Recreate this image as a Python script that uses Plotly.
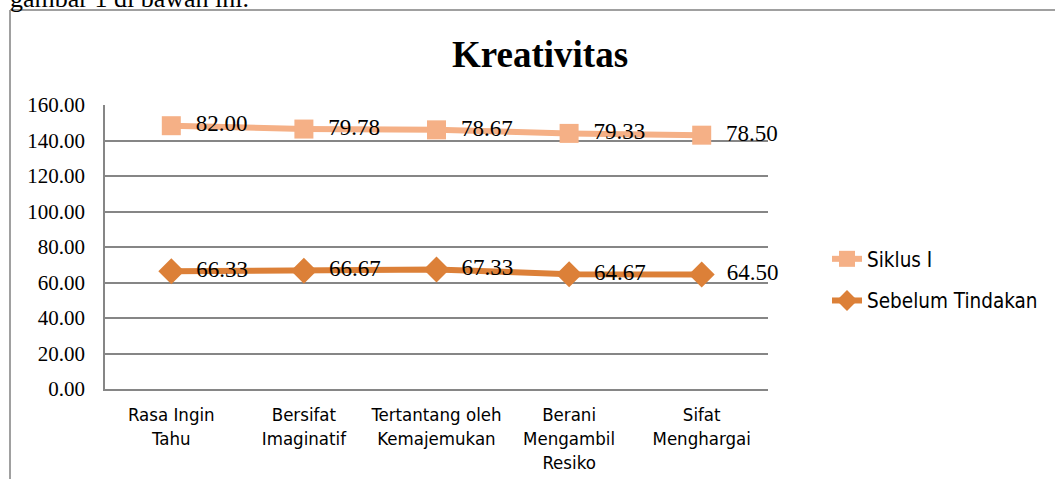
import plotly.graph_objects as go

categories = ["Rasa Ingin<br>Tahu", "Bersifat<br>Imaginatif", "Tertantang oleh<br>Kemajemukan",
              "Berani<br>Mengambil<br>Resiko", "Sifat<br>Menghargai"]
sebelum = [66.33, 66.67, 67.33, 64.67, 64.50]
siklus1 = [82.00, 79.78, 78.67, 79.33, 78.50]
y_ticks = [0, 20, 40, 60, 80, 100, 120, 140, 160]

W, H = 1055, 479
L, R, T, B = 105, 287, 105, 90
pw, ph = W - L - R, H - T - B

def px_x(x):
    return (x - L) / pw

def px_y(y):
    return (H - B - y) / ph

PAD = "\u2002"

fig = go.Figure()
fig.add_trace(go.Scatter(
    x=categories, y=sebelum, name="Sebelum Tindakan", stackgroup="s", fill="none",
    legendgroup="b", legendrank=2, cliponaxis=False,
    mode="lines+markers+text", text=[PAD + f"{v:.2f}" for v in sebelum], textposition="middle right",
    textfont=dict(family="Liberation Serif", size=23, color="black"),
    line=dict(color="#DC8038", width=6),
    marker=dict(symbol="diamond", size=20, color="#DC8038"),
    hoverinfo="skip",
))
fig.add_trace(go.Scatter(
    x=categories, y=siklus1, name="Siklus I", stackgroup="s", fill="none",
    legendgroup="a", legendrank=1, cliponaxis=False,
    mode="lines+markers+text", text=[PAD + f"{v:.2f}" for v in siklus1], textposition="middle right",
    textfont=dict(family="Liberation Serif", size=23, color="black"),
    line=dict(color="#F5B086", width=6),
    marker=dict(symbol="square", size=19, color="#F5B086"),
    hoverinfo="skip",
))

fig.update_layout(
    width=W, height=H,
    margin=dict(l=L, r=R, t=T, b=B, autoexpand=False),
    paper_bgcolor="white", plot_bgcolor="white",
    showlegend=True,
    legend=dict(x=px_x(827), y=px_y(280), xanchor="left", yanchor="middle",
                traceorder="grouped", font=dict(family="DejaVu Sans Condensed", size=20.5, color="black"),
                itemwidth=30, tracegroupgap=12, bgcolor="rgba(0,0,0,0)"),
    title=dict(text="<b>Kreativitas</b>", x=px_x(540), xref="paper", xanchor="center",
               y=1 - 54 / H, yanchor="middle",
               font=dict(family="Liberation Serif", size=37, color="black")),
    xaxis=dict(type="category", range=[-0.5, 4.5], showgrid=False, showline=True,
               linecolor="#868686", linewidth=1.5, ticks="", ticklabelstandoff=8,
               tickfont=dict(family="DejaVu Sans Condensed", size=18.5, color="black")),
    yaxis=dict(range=[0, 160], tickvals=y_ticks, ticktext=[f"{v:.2f}" for v in y_ticks],
               showgrid=True, gridcolor="#868686", gridwidth=1.5, showline=True,
               linecolor="#868686", linewidth=1.5, zeroline=False, ticks="",
               ticklabelstandoff=14,
               tickfont=dict(family="Liberation Serif", size=21, color="black")),
    shapes=[
        dict(type="line", xref="paper", yref="paper", x0=px_x(10), x1=px_x(10),
             y0=px_y(479), y1=px_y(10), line=dict(color="#A0A0A0", width=2)),
        dict(type="line", xref="paper", yref="paper", x0=px_x(10), x1=px_x(1060),
             y0=px_y(10), y1=px_y(10), line=dict(color="#A0A0A0", width=2)),
    ],
    annotations=[
        dict(text="gambar 1 di bawah ini.", xref="paper", yref="paper", x=px_x(8), y=px_y(15),
             xanchor="left", yanchor="bottom", showarrow=False,
             font=dict(family="Liberation Serif", size=26, color="black")),
    ],
)
fig.write_html("out.html", config={"displayModeBar": False},
               post_script="document.body.style.margin='0';document.body.style.overflow='hidden';")
